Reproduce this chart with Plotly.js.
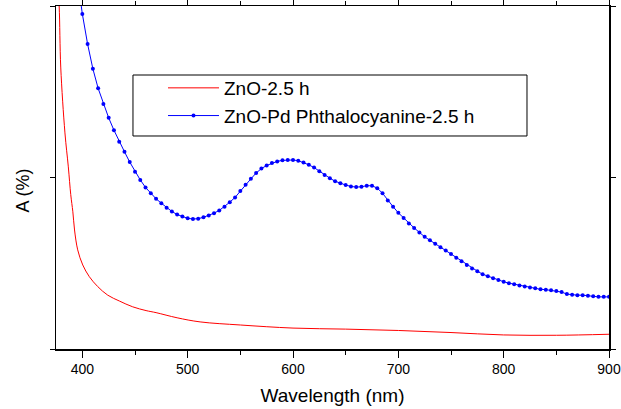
<!DOCTYPE html>
<html>
<head>
<meta charset="utf-8">
<script src="https://cdn.plot.ly/plotly-3.0.1.min.js"></script>
<style>html,body{margin:0;padding:0;background:#fff;}#chart{width:621px;height:409px;}</style>
</head>
<body>
<div id="chart"></div>
<script>
// ZnO-2.5 h (red, no markers)
const znoX = [376, 378, 379.5, 383.5, 386.7, 389, 391, 392.6, 395.6, 400.4, 406.6, 414.6, 424.1, 435.1, 447.8, 460.5, 470, 490, 511.8, 550, 600, 650, 700, 750, 800, 850, 900];
const znoY = [1.10, 1.00, 0.822, 0.630, 0.531, 0.450, 0.400, 0.347, 0.289, 0.245, 0.211, 0.182, 0.157, 0.140, 0.123, 0.112, 0.106, 0.091, 0.079, 0.070, 0.061, 0.058, 0.054, 0.048, 0.041, 0.040, 0.043];

// ZnO-Pd Phthalocyanine-2.5 h (blue, line + dots every 5 nm)
const pcX = [395, 400, 405, 410, 415, 420, 425, 430, 435, 440, 445, 450, 455, 460, 465, 470, 475, 480, 485, 490, 495,
  500, 505, 510, 515, 520, 525, 530, 535, 540, 545, 550, 555, 560, 565, 570, 575, 580, 585, 590, 595,
  600, 605, 610, 615, 620, 625, 630, 635, 640, 645, 650, 655, 660, 665, 670, 675, 680, 685, 690, 695,
  700, 705, 710, 715, 720, 725, 730, 735, 740, 745, 750, 755, 760, 765, 770, 775, 780, 785, 790, 795,
  800, 805, 810, 815, 820, 825, 830, 835, 840, 845, 850, 855, 860, 865, 870, 875, 880, 885, 890, 895, 900];
const pcY = [1.09, 0.977, 0.889, 0.817, 0.760, 0.714, 0.674, 0.638, 0.604, 0.575, 0.545, 0.517, 0.493, 0.471, 0.454, 0.438, 0.425, 0.412, 0.401, 0.392, 0.386,
  0.381, 0.379, 0.380, 0.384, 0.389, 0.396, 0.404, 0.415, 0.428, 0.442, 0.461, 0.479, 0.496, 0.513, 0.526, 0.535, 0.542, 0.547, 0.550, 0.551,
  0.551, 0.549, 0.544, 0.537, 0.529, 0.518, 0.507, 0.498, 0.489, 0.483, 0.478, 0.474, 0.472, 0.473, 0.476, 0.476, 0.469, 0.454, 0.433, 0.415,
  0.397, 0.382, 0.366, 0.353, 0.340, 0.327, 0.317, 0.307, 0.297, 0.287, 0.277, 0.266, 0.256, 0.245, 0.235, 0.227, 0.218, 0.212, 0.206, 0.201,
  0.196, 0.192, 0.189, 0.185, 0.182, 0.179, 0.177, 0.174, 0.173, 0.171, 0.169, 0.166, 0.160, 0.158, 0.157, 0.157, 0.155, 0.154, 0.152, 0.152, 0.152];

const seriesNames = ['ZnO-2.5 h', 'ZnO-Pd Phthalocyanine-2.5 h'];
const xTickVals = [400, 500, 600, 700, 800, 900];

const font = 'Arial, "Liberation Sans", Helvetica, sans-serif';

const traces = [
  {x: znoX, y: znoY, name: seriesNames[0], type: 'scatter', mode: 'lines',
   line: {color: '#ff0000', width: 1, shape: 'spline', smoothing: 1}},
  {x: pcX, y: pcY, name: seriesNames[1], type: 'scatter', mode: 'lines+markers',
   line: {color: '#0000ff', width: 1}, marker: {color: '#0000ff', size: 4}}
];

const layout = {
  width: 621, height: 409,
  margin: {l: 56, r: 12, t: 6, b: 60},
  paper_bgcolor: '#ffffff', plot_bgcolor: '#ffffff',
  font: {family: font, color: '#000000', size: 14},
  showlegend: true,
  legend: {x: 0.1935, y: 0.8163, xanchor: 'left', yanchor: 'top',
    borderwidth: 0, bgcolor: 'rgba(0,0,0,0)',
    font: {family: font, size: 19, color: '#000000'}, itemwidth: 51, tracegroupgap: 0},
  shapes: [
    {type: 'rect', xref: 'paper', yref: 'paper', x0: 0.1392, x1: 0.8517, y0: 0.621, y1: 0.7988,
     line: {color: '#000000', width: 1}, fillcolor: 'rgba(0,0,0,0)', layer: 'above'}
  ],
  annotations: [
    {text: 'A (%)', xref: 'paper', yref: 'paper', x: 0, y: 0.5, xanchor: 'center', yanchor: 'middle',
     xshift: -34, yshift: -13, textangle: -90, showarrow: false,
     font: {family: font, size: 18, color: '#000'}}
  ],
  xaxis: {
    range: [375, 900], tickvals: xTickVals, ticktext: xTickVals.map(String),
    ticks: 'outside', ticklen: 7, tickwidth: 1, tickcolor: '#000',
    minor: {dtick: 50, tick0: 0, ticks: 'outside', ticklen: 4, tickwidth: 1, tickcolor: '#000'},
    showline: true, linecolor: '#000', linewidth: 1.5, mirror: 'ticks',
    showgrid: false, zeroline: false,
    tickfont: {family: font, size: 14, color: '#000'},
    title: {text: 'Wavelength (nm)', font: {family: font, size: 19, color: '#000'}, standoff: 12}
  },
  yaxis: {
    range: [0, 1], tickvals: [0, 0.5, 1], showticklabels: false,
    ticks: 'outside', ticklen: 5, tickwidth: 1, tickcolor: '#000',
    showline: true, linecolor: '#000', linewidth: 1.5, mirror: 'ticks',
    showgrid: false, zeroline: false
  }
};

Plotly.newPlot('chart', traces, layout, {displayModeBar: false, staticPlot: true});
</script>
</body>
</html>
